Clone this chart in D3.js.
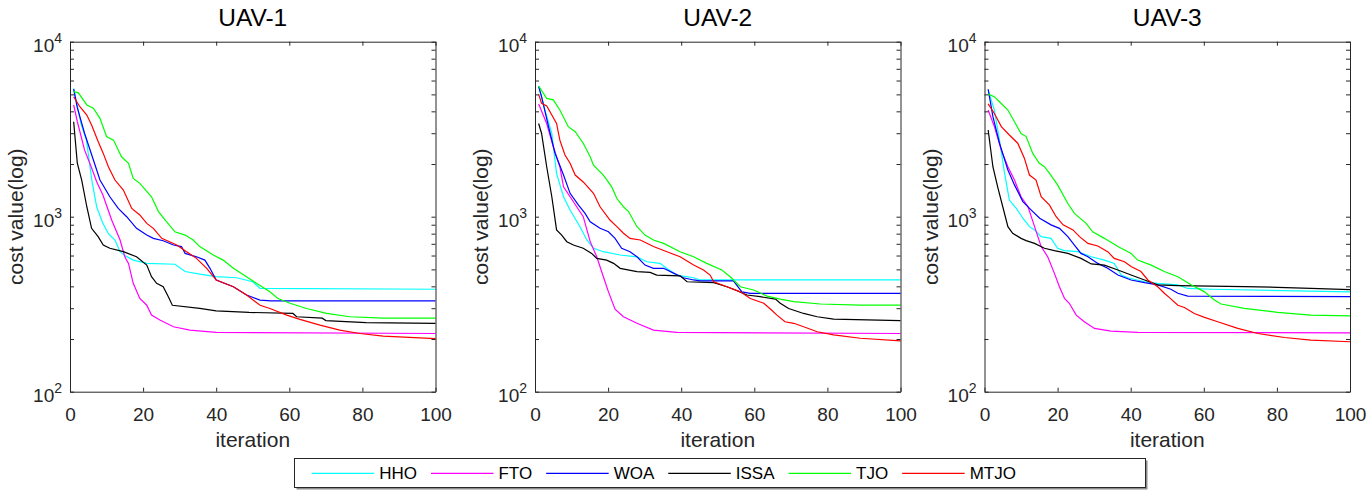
<!DOCTYPE html>
<html>
  <head>
    <meta charset="utf-8" />
    <script src="https://d3js.org/d3.v7.min.js"></script>
    <style>
      body { margin: 0; background: #fff; }
      text { font-family: "Liberation Sans", Arial, sans-serif; }
    </style>
  </head>
  <body>
    <svg id="chart" width="1371" height="494"></svg>

    <script>
      // names and labels
      const titles = ["UAV-1", "UAV-2", "UAV-3"];
      const algorithms = ["HHO", "FTO", "WOA", "ISSA", "TJO", "MTJO"];
      const xTicks = [0, 20, 40, 60, 80, 100];
      const yMajor = [100, 1000, 10000];

      // [iteration, cost], UAV-1
      const hho1 = [[1,5410],[2,4300],[3,3400],[4.5,2740],[6,1600],[7.3,1140],[9,916],[10.5,800],[12.3,736],[13.7,631],[15,600],[17.3,565],[21,541],[28.7,535],[31.5,486],[35.5,470],[40,454],[45.6,448],[50,425],[52,389],[100,385]];
      const fto1 = [[1,4350],[2,3500],[4,2400],[5.5,2000],[7.3,1585],[9,1330],[11.4,957],[13.7,736],[15,590],[16,541],[17.3,416],[19.1,341],[21,312],[22.3,274],[24.6,257],[28.3,235],[32.8,225],[40,218],[100,215]];
      const woa1 = [[1,5350],[2,4200],[4,2990],[6.4,2110],[8.2,1620],[10.9,1300],[13.2,1115],[15.5,1000],[18.2,858],[21,785],[22.8,752],[25.5,729],[28.3,689],[30.5,675],[31.5,617],[34.6,590],[36.9,565],[38.3,507],[40,435],[44.7,398],[48.3,357],[52,334],[55,330],[100,330]];
      const issa1 = [[1,3490],[2,2020],[3.2,1620],[4.6,1140],[5.9,858],[7.7,769],[9.1,689],[10.9,660],[14.6,631],[18.2,590],[21,529],[22.3,454],[23.7,416],[25.5,398],[26.9,349],[28,312],[35.5,299],[40,290],[49,284],[61,280],[62,268],[69,263],[70,255],[81,248],[100,246]];
      const tjo1 = [[1,5180],[2.3,5100],[4.6,4350],[6.4,4170],[8.2,3650],[10,2870],[11.9,2740],[14.1,2200],[16,2020],[17.3,1655],[19.1,1550],[22.3,1300],[24.2,1070],[26.4,936],[28.7,820],[31.5,785],[33.7,736],[35.5,675],[39.2,604],[41.9,565],[44.7,507],[48.3,454],[51,416],[54.7,372],[56.9,341],[60.2,320],[64.7,299],[70.2,280],[76.6,268],[85.7,263],[100,263]];
      const mtjo1 = [[1,4850],[2.7,4250],[4.6,3810],[5.9,3340],[7.7,2690],[9.1,2300],[10.5,1930],[12.3,1620],[14.6,1420],[16.9,1115],[19.1,1023],[21,916],[22.8,858],[25.1,752],[29.2,689],[31.9,631],[34.6,578],[37.4,507],[40,435],[44.7,398],[48.3,357],[52,312],[54.7,299],[59.3,274],[62.9,259],[68.4,240],[73.8,225],[79.3,215],[85.7,208],[100,201]];

      // UAV-2
      const hho2 = [[1,5580],[2.7,4070],[4.6,2990],[5.9,1770],[7.8,1300],[9.6,1091],[12.3,877],[14.2,736],[16,660],[18.7,631],[23.3,604],[27.9,590],[30.6,553],[34.2,541],[36,507],[38.8,464],[43.4,448],[45.2,435],[100,435]];
      const fto2 = [[1,4410],[3.2,3410],[5,2510],[6.8,1930],[7.8,1483],[9.6,1300],[11.4,1140],[13.2,1000],[15.1,720],[16.9,590],[18.7,454],[20.1,372],[21.9,296],[24.2,268],[27.9,246],[32.4,225],[38.8,218],[100,215]];
      const woa2 = [[1,5540],[1.8,4850],[3.7,3270],[5.5,2300],[7.8,1730],[9.6,1360],[11.9,1165],[13.7,1044],[15.1,936],[17.8,858],[20.1,820],[21.9,752],[23.7,660],[26,631],[27.9,590],[30.1,529],[32.4,507],[35.2,507],[37.9,476],[40.6,448],[43.4,435],[45.2,430],[54.3,430],[56.6,372],[58.9,365],[100,365]];
      const issa2 = [[1,3410],[1.8,2990],[3.2,1930],[4.6,1300],[5.9,840],[7.3,785],[8.7,720],[10.5,689],[13.2,660],[15.5,617],[16.9,578],[19.6,565],[21.5,541],[23.3,507],[27.9,486],[31.5,481],[33.3,464],[39.7,459],[41.6,425],[48.9,420],[52.5,398],[54.3,385],[58,357],[61.6,349],[65.8,338],[67.1,320],[69.4,299],[73.5,280],[77.2,268],[81.7,260],[100,255]];
      const tjo2 = [[1,5580],[3.2,4740],[5,4650],[6.8,4070],[9.1,3270],[11,3060],[13.2,2630],[15.1,2200],[16,1970],[18.7,1730],[21,1480],[22.4,1270],[24.2,1140],[25.6,1070],[27.9,877],[30.1,785],[32.4,736],[35.2,704],[39.7,631],[43.4,590],[47,541],[51.1,496],[53.4,454],[56.2,398],[59.8,381],[63.5,352],[67.1,338],[70.8,327],[78.1,317],[89,312],[100,312]];
      const mtjo2 = [[1,5000],[1.8,4440],[3.2,4290],[4.6,3810],[5.9,3410],[6.8,2740],[8.2,2250],[9.6,2020],[11,1730],[13.2,1580],[16,1360],[17.8,1140],[20.5,957],[22.4,877],[24.2,804],[26,752],[28.8,736],[32.4,675],[36.1,631],[39.7,590],[43.4,529],[46.1,496],[47.9,464],[48.9,425],[52.5,398],[56.2,372],[58.9,341],[62.6,320],[64.7,293],[66.2,274],[68.4,251],[70.8,246],[73.5,235],[77.2,220],[81.7,211],[89,202],[100,195]];

      // UAV-3
      const hho3 = [[1,5290],[2.7,4070],[4.1,2740],[5.5,1770],[6.8,1245],[8.7,1115],[10.5,980],[12.3,877],[13.7,840],[15.5,769],[18.2,752],[20,660],[21.9,640],[25.5,631],[29.2,590],[32.8,565],[35.5,541],[37.4,464],[39.2,448],[43.8,425],[47.4,416],[52.9,408],[55.6,389],[62,385],[100,372]];
      const fto3 = [[1,4070],[2.7,3270],[4.6,2400],[6.4,1930],[8.2,1620],[10,1300],[11.9,1140],[13.7,877],[15.5,675],[17.3,590],[19.1,476],[20.5,398],[21.9,341],[23.2,320],[25.1,274],[27.3,251],[30.1,230],[34.6,222],[41.9,218],[100,217]];
      const woa3 = [[1,5350],[2.3,3730],[4.1,2630],[6.4,1850],[8.2,1520],[10.5,1220],[12.8,1091],[15.1,980],[18.2,898],[20.5,858],[22.8,769],[24.6,689],[26.4,617],[28.3,590],[31,541],[33.7,507],[36.5,464],[40.1,435],[43.8,420],[47.4,408],[51,385],[52.9,365],[55.6,352],[100,349]];
      const issa3 = [[1,3130],[2.3,1930],[3.6,1480],[5,1140],[6.4,877],[7.7,804],[10,752],[11.4,730],[13.7,704],[16.4,660],[19.1,640],[22.8,617],[26.4,578],[29.2,537],[32.8,529],[36.5,496],[40.1,464],[43.8,435],[47.4,408],[52.9,404],[71.1,398],[80.2,395],[89.3,389],[100,383]];
      const tjo3 = [[1,5020],[2.7,4850],[4.1,4540],[6.4,4070],[8.2,3490],[10,2990],[11.4,2870],[13.2,2300],[15,2020],[16.4,1930],[17.8,1770],[20,1520],[22.8,1190],[24.6,1044],[27.8,916],[29.6,820],[32.8,752],[36.5,675],[40.1,617],[41.9,565],[45.6,529],[49.2,486],[52.9,454],[56.5,408],[60.2,372],[62.9,334],[64.7,317],[71.1,299],[80.2,284],[89.3,274],[100,271]];
      const mtjo3 = [[1,4410],[2.7,3890],[4.6,3270],[6.8,2930],[9.1,2630],[10.9,2160],[12.3,1730],[14.1,1620],[15.5,1300],[17.8,1165],[19.6,1000],[21.5,898],[24.2,840],[26,769],[28.3,704],[31,680],[33.7,631],[35.5,578],[38.3,553],[40.1,519],[42.8,486],[44.7,435],[47.4,398],[49.2,365],[50.6,345],[52.9,312],[54.7,303],[57.4,280],[60.2,266],[63.8,251],[69.3,230],[74.8,215],[82.1,204],[89.3,197],[100,193]];

      const panelSeries = [
        [hho1, fto1, woa1, issa1, tjo1, mtjo1],
        [hho2, fto2, woa2, issa2, tjo2, mtjo2],
        [hho3, fto3, woa3, issa3, tjo3, mtjo3],
      ];

      // matlab line colours
      const colors = ["#00ffff", "#ff00ff", "#0000ff", "#000000", "#00ff00", "#ff0000"];
      const axisColor = "#262626";

      // layout
      const svg = d3.select("#chart");
      const lefts = [70, 535, 984.5];
      const plotW = 365.5;
      const plotTop = 41.7, plotBottom = 391.7;

      const y = d3.scaleLog().domain([100, 10000]).range([plotBottom, plotTop]);

      function styleAxis(g) {
        g.attr("font-family", null).attr("font-size", null);
        g.selectAll("line").attr("stroke", axisColor);
        g.select(".domain").attr("stroke", axisColor);
      }

      titles.forEach(function (title, p) {
        const left = lefts[p];
        const x = d3.scaleLinear().domain([0, 100]).range([left, left + plotW]);
        const g = svg.append("g");

        // curves first, box on top
        const line = d3.line()
          .x(d => x(d[0]))
          .y(d => y(d[1]));

        panelSeries[p].forEach(function (s, i) {
          g.append("path")
            .datum(s)
            .attr("fill", "none")
            .attr("stroke", colors[i])
            .attr("stroke-width", 1.2)
            .attr("d", line);
        });

        // bottom axis with labels
        g.append("g")
          .attr("transform", `translate(0,${plotBottom})`)
          .call(d3.axisBottom(x).tickValues(xTicks).tickSizeInner(-4).tickSizeOuter(0).tickPadding(15.5))
          .call(styleAxis)
          .selectAll("text")
          .attr("font-size", 19)
          .attr("fill", axisColor);

        // top and right, ticks only
        g.append("g")
          .attr("transform", `translate(0,${plotTop})`)
          .call(d3.axisTop(x).tickValues(xTicks).tickSizeInner(-4).tickSizeOuter(0).tickFormat(""))
          .call(styleAxis);

        g.append("g")
          .attr("transform", `translate(${left},0)`)
          .call(d3.axisLeft(y).tickValues(y.ticks()).tickSizeInner(-4).tickSizeOuter(0).tickFormat(""))
          .call(styleAxis);

        g.append("g")
          .attr("transform", `translate(${left + plotW},0)`)
          .call(d3.axisRight(y).tickValues(y.ticks()).tickSizeInner(-4).tickSizeOuter(0).tickFormat(""))
          .call(styleAxis);

        // 10^n labels
        yMajor.forEach(function (v) {
          const t = g.append("text")
            .attr("x", left - 8)
            .attr("y", y(v) + 10)
            .attr("text-anchor", "end")
            .attr("fill", axisColor)
            .attr("font-size", 19);
          t.append("tspan").text("10");
          t.append("tspan")
            .attr("font-size", 14)
            .attr("dy", -8.4)
            .text(Math.round(Math.log10(v)));
        });

        // title and axis labels
        g.append("text")
          .attr("x", left + plotW / 2)
          .attr("y", 26)
          .attr("text-anchor", "middle")
          .attr("font-size", 24.5)
          .attr("fill", "#000")
          .text(title);

        g.append("text")
          .attr("x", left + plotW / 2)
          .attr("y", 447)
          .attr("text-anchor", "middle")
          .attr("font-size", 21)
          .attr("fill", axisColor)
          .text("iteration");

        g.append("text")
          .attr("transform", `translate(${left - 47},${(plotTop + plotBottom) / 2}) rotate(-90)`)
          .attr("text-anchor", "middle")
          .attr("font-size", 21)
          .attr("fill", axisColor)
          .text("cost value(log)");
      });

      // legend along the bottom
      const legend = svg.append("g");
      const lx = 294.5, ly = 458.5, lw = 851, lh = 29;
      legend.append("path")
        .attr("d", `M${lx + 2},${ly + lh + 1}H${lx + lw + 1}V${ly + 2}`)
        .attr("fill", "none")
        .attr("stroke", "#8c8c8c")
        .attr("stroke-width", 2);
      legend.append("rect")
        .attr("x", lx).attr("y", ly)
        .attr("width", lw).attr("height", lh)
        .attr("fill", "#fff")
        .attr("stroke", axisColor);

      let cx = 311.7;
      const lineY = 473.3;
      algorithms.forEach(function (name, i) {
        legend.append("line")
          .attr("x1", cx).attr("x2", cx + 62.5)
          .attr("y1", lineY).attr("y2", lineY)
          .attr("stroke", colors[i])
          .attr("stroke-width", 1.2);
        const t = legend.append("text")
          .attr("x", cx + 67.5)
          .attr("y", lineY + 6.1)
          .attr("font-size", 17)
          .attr("fill", "#000")
          .text(name);
        cx += 67.5 + t.node().getComputedTextLength() + 14;
      });
    </script>
  </body>
</html>
